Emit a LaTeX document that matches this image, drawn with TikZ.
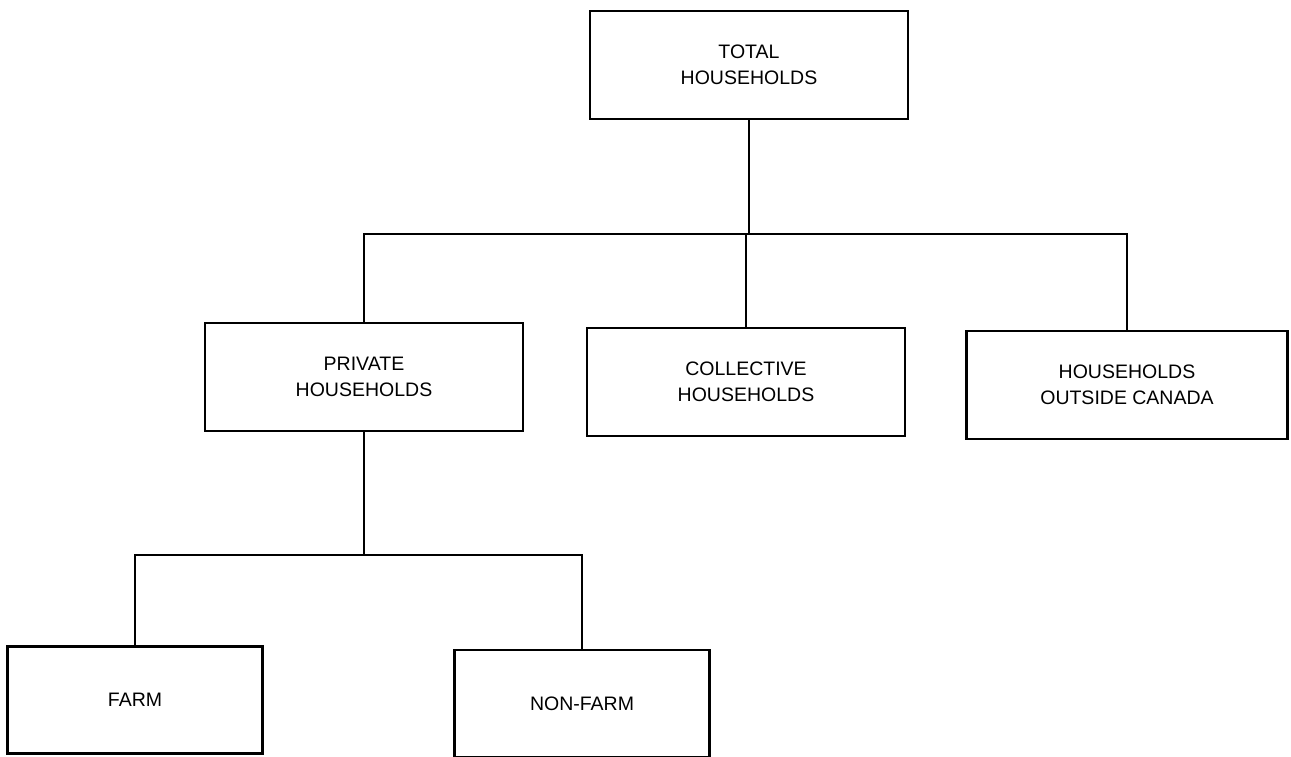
\documentclass[tikz,border=0pt]{standalone}
\usepackage{fontspec}
\setmainfont{Liberation Sans}
\begin{document}
\begin{tikzpicture}[x=1pt,y=-1pt,
  unitbox/.style={draw, line width=2.4pt, align=center, inner sep=0pt,
    font=\fontsize{19.5}{26}\selectfont},
  wide/.style={unitbox, minimum width=318pt, minimum height=108pt},
  narrow/.style={unitbox, minimum width=255pt, minimum height=107pt},
  link/.style={line width=2.4pt}]
\useasboundingbox (0,0) rectangle (1291,757);

% top level
\node[wide] (total) at (749,65) {TOTAL\\HOUSEHOLDS};

% second level
\node[wide] (private) at (364,377) {PRIVATE\\HOUSEHOLDS};
\node[wide] (collective) at (746,382) {COLLECTIVE\\HOUSEHOLDS};
\node[wide, minimum width=321pt] (outside) at (1127,385) {HOUSEHOLDS\\OUTSIDE CANADA};

% third level
\node[narrow] (farm) at (135,700) {FARM};
\node[narrow] (nonfarm) at (582,703.5) {NON-FARM};

% branch from total households
\coordinate (busTop) at (749,234);
\draw[link] (total.south) -- (busTop);
\draw[link] (private.north) |- (busTop) -| (outside.north);
\draw[link] (collective.north) -- (collective.north |- busTop);

% branch from private households
\coordinate (busLow) at (364,555);
\draw[link] (private.south) -- (busLow);
\draw[link] (farm.north) |- (busLow) -| (nonfarm.north);
\end{tikzpicture}
\end{document}
